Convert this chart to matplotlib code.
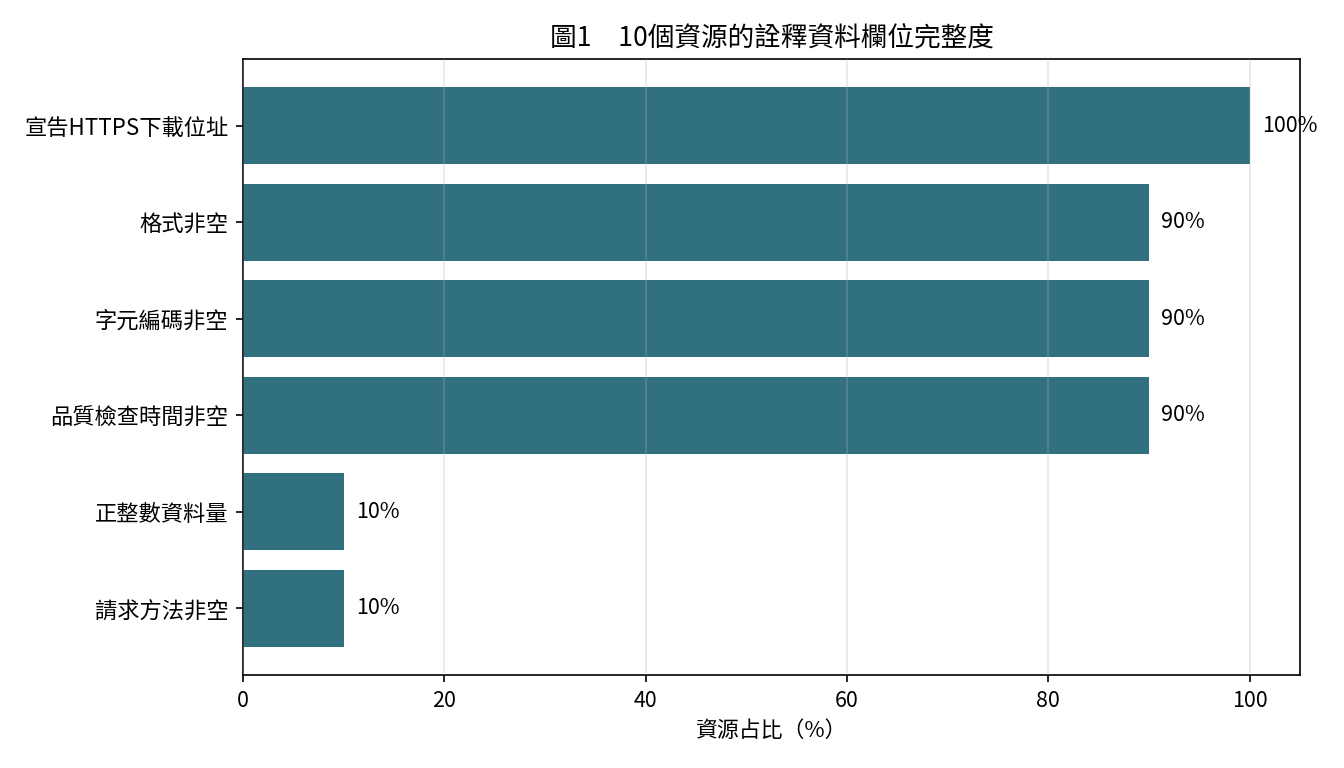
import matplotlib
matplotlib.use("Agg")
import matplotlib.pyplot as plt

plt.rcParams["font.family"] = ["Noto Sans CJK TC", "DejaVu Sans"]

labels = ["宣告HTTPS下載位址", "格式非空", "字元編碼非空", "品質檢查時間非空", "正整數資料量", "請求方法非空"]
values = [100, 90, 90, 90, 10, 10]

fig = plt.figure(figsize=(8.96, 5.12), dpi=150)
ax = fig.add_axes([243 / 1344, 1 - 675 / 768, (1300 - 243) / 1344, (675 - 59) / 768])
y = list(range(len(labels)))[::-1]
ax.barh(y, values, color="#31707f", height=0.8)
for yi, v in zip(y, values):
    ax.text(v + 1.2, yi, f"{v}%", va="center", fontsize=10.3)
ax.set_yticks(y)
ax.set_yticklabels(labels, fontsize=10.7)
ax.set_xlim(0, 105)
ax.set_xticks([0, 20, 40, 60, 80, 100])
ax.tick_params(axis="x", labelsize=10.3)
ax.grid(axis="x", alpha=0.3)
ax.set_axisbelow(False)
ax.set_xlabel("資源占比（%）", fontsize=10.5)
ax.set_title("圖1　10個資源的詮釋資料欄位完整度", fontsize=12.8)
fig.savefig("out.png", dpi=150)
